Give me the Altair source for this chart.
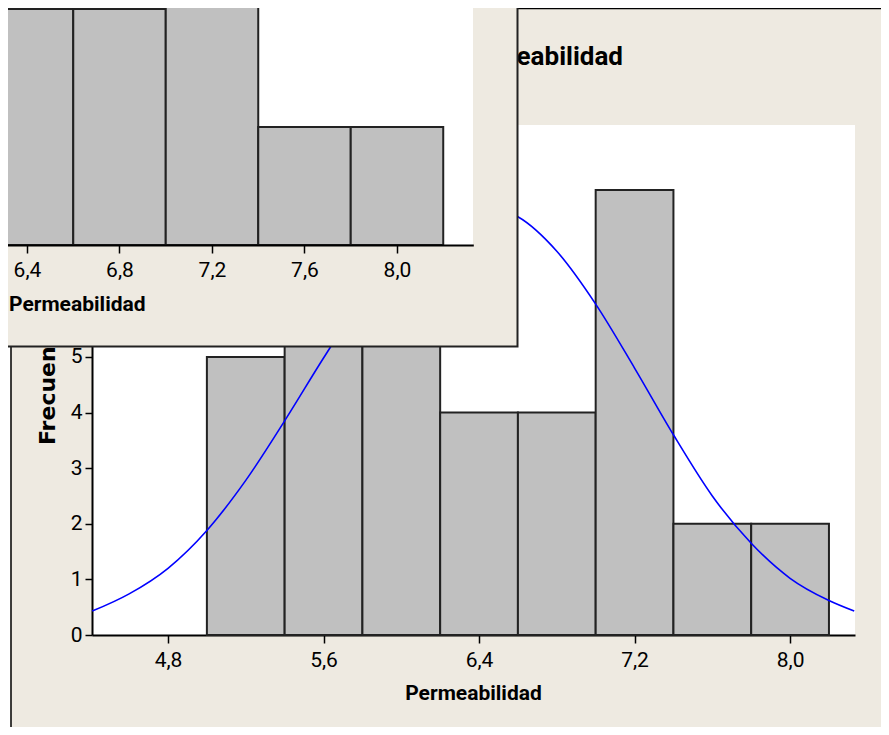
import altair as alt
import pandas as pd

# ---------------- data ----------------
bin_centers = [5.2, 5.6, 6.0, 6.4, 6.8, 7.2, 7.6, 8.0]
counts = [5, 7, 9, 4, 4, 8, 2, 2]
bin_width = 0.4

curve_x = [4.41, 4.6, 4.8, 5.0, 5.2, 5.4, 5.6, 5.8, 6.0, 6.2, 6.4,
           6.6, 6.8, 7.0, 7.2, 7.4, 7.6, 7.8, 8.0, 8.2, 8.33]
curve_y = [0.43, 0.74, 1.2, 1.88, 2.78, 3.85, 4.98, 6.05, 6.95, 7.5, 7.72,
           7.52, 6.9, 5.95, 4.8, 3.6, 2.5, 1.65, 1.02, 0.62, 0.43]

back_ticks = [4.8, 5.6, 6.4, 7.2, 8.0]
front_ticks = [6.4, 6.8, 7.2, 7.6, 8.0]
y_ticks = [0, 1, 2, 3, 4, 5]

title_text = "Histograma de Permeabilidad"
x_title = "Permeabilidad"
y_title = "Frecuencia"

# ---------------- tables ----------------
hist = pd.DataFrame({"center": bin_centers, "count": counts})
curve = pd.DataFrame({"x": curve_x, "y": curve_y})
one = pd.DataFrame({"k": [0]})

FONT = "Roboto, 'Liberation Sans', sans-serif"
WIDE_FONT = "'DejaVu Sans', sans-serif"
BEIGE = "#EEEAE1"
BAR_FILL = "#C0C0C0"
EDGE = "#222222"
lab = "replace(format(datum.value, '.1f'), '.', ',')"
half = bin_width / 2


def rect(x, x2, y, y2, fill, stroke="black", sw=0):
    return alt.Chart(one).mark_rect(fill=fill, stroke=stroke, strokeWidth=sw).encode(
        x=alt.value(x), x2=alt.value(x2), y=alt.value(y), y2=alt.value(y2))


def rule(x, x2, y, y2, sw=1.5):
    return alt.Chart(one).mark_rule(color="black", strokeWidth=sw).encode(
        x=alt.value(x), x2=alt.value(x2), y=alt.value(y), y2=alt.value(y2))


def text(t, x, y, size, align, baseline="alphabetic", angle=0, font=FONT):
    return alt.Chart(one).mark_text(
        text=t, font=font, fontSize=size, fontWeight="bold", align=align,
        baseline=baseline, angle=angle, color="black").encode(
        x=alt.value(x), y=alt.value(y))


# ---------------- back window ----------------
back_x = alt.Scale(domain=[4.409, 8.334], nice=False, zero=False)
back_y = alt.Scale(domain=[0, 9.17], nice=False, zero=False)

back_bars = alt.Chart(hist).transform_calculate(
    lo=f"datum.center - {half}", hi=f"datum.center + {half}"
).mark_rect(fill=BAR_FILL, stroke=EDGE, strokeWidth=2).encode(
    x=alt.X("lo:Q", scale=back_x,
            axis=alt.Axis(values=back_ticks, labelExpr=lab, title=None,
                          orient="bottom", tickSize=8, labelPadding=6)),
    x2="hi:Q",
    y=alt.Y("count:Q", scale=back_y,
            axis=alt.Axis(values=y_ticks, title=None, orient="left",
                          tickSize=7, labelPadding=3, format="d")),
    y2=alt.datum(0),
)

back_curve = alt.Chart(curve).mark_line(
    color="#0000FF", strokeWidth=1.6, interpolate="monotone").encode(
    x=alt.X("x:Q", scale=back_x),
    y=alt.Y("y:Q", scale=back_y),
)

back = alt.layer(
    rect(-100, -81.5, -200, 700, "white"),
    rect(-100, 900, -200, -116.5, "white"),
    rule(-81, -81, -116.5, 700),
    rule(-81, 900, -116.5, -116.5),
    back_bars,
    back_curve,
    text(title_text, 531, -60, 26, "right"),
    text(y_title, -44.5, 320, 22, "left", "middle", 270, WIDE_FONT),
    text(x_title, 381.5, 575, 21, "center"),
)

# ---------------- front window ----------------
front_x = alt.Scale(domain=[6.2, 8.33], range=[-111.25, 381.3], nice=False, zero=False)
front_y = alt.Scale(domain=[0, 4], range=[120, -116], nice=False, zero=False)

front_bars = alt.Chart(hist).transform_calculate(
    lo=f"datum.center - {half}", hi=f"datum.center + {half}"
).mark_rect(fill=BAR_FILL, stroke=EDGE, strokeWidth=2).encode(
    x=alt.X("lo:Q", scale=front_x,
            axis=alt.Axis(values=front_ticks, labelExpr=lab, title=None,
                          orient="bottom", offset=-390, zindex=1,
                          tickSize=8, labelPadding=6)),
    x2="hi:Q",
    y=alt.Y("count:Q", scale=front_y, axis=None),
    y2=alt.datum(0),
)

front = alt.layer(
    rect(-120, 425.5, -140, 221.5, BEIGE, EDGE, 2),
    rect(-120, 381, -140, 120, "white"),
    front_bars,
    text(x_title, -83, 186, 21, "left"),
)

chart = alt.layer(back, front).resolve_scale(
    x="independent", y="independent"
).properties(
    width=763, height=510,
    padding={"left": 84, "top": 117, "right": 26, "bottom": 92},
    autosize="none",
    background=BEIGE,
).configure_view(
    fill="white", strokeWidth=0
).configure_axis(
    labelFont=FONT, labelFontSize=21, labelColor="black",
    domainColor="black", domainWidth=2, tickColor="black", tickWidth=1.5,
    grid=False,
)

chart.save("out.html", embed_options={"renderer": "svg", "actions": False})
